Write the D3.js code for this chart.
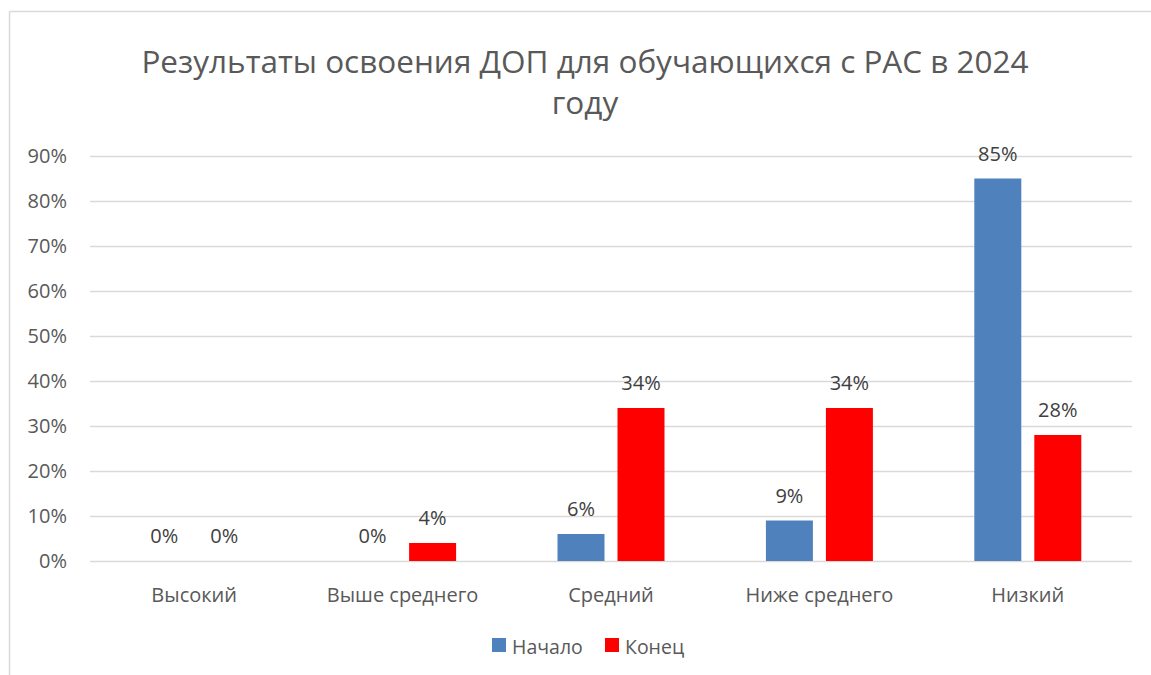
<!DOCTYPE html>
<html>
<head>
<meta charset="utf-8">
<script src="https://cdn.jsdelivr.net/npm/d3@7"></script>
<style>
  body { margin: 0; background: #fff; }
  text { font-family: "Open Sans", "Noto Sans", sans-serif; }
</style>
</head>
<body>
<svg id="chart"></svg>
<script>
const categories = ["Высокий", "Выше среднего", "Средний", "Ниже среднего", "Низкий"];
const seriesNames = ["Начало", "Конец"];
const startValues = [0, 0, 0.06, 0.09, 0.85];
const endValues = [0, 0.04, 0.34, 0.34, 0.28];
const yTicks = [0, 0.1, 0.2, 0.3, 0.4, 0.5, 0.6, 0.7, 0.8, 0.9];
const colors = ["#4f81bd", "#ff0000"];

const width = 1151;
const height = 675;
const margin = { top: 156, right: 19, bottom: 114, left: 90 };

const svg = d3.select("#chart").attr("width", width).attr("height", height);

// chart frame (only top and left edges visible)
svg.append("line").attr("x1", 9.5).attr("x2", width).attr("y1", 11.5).attr("y2", 11.5)
  .attr("stroke", "#d9d9d9").attr("stroke-width", 1.5);
svg.append("line").attr("x1", 9.5).attr("x2", 9.5).attr("y1", 11.5).attr("y2", height)
  .attr("stroke", "#d9d9d9").attr("stroke-width", 1.5);

const x0 = d3.scaleBand()
  .domain(categories)
  .range([margin.left, width - margin.right])
  .paddingInner(0.4866)
  .paddingOuter(0.2433);

const x1 = d3.scaleBand()
  .domain(seriesNames)
  .range([0, x0.bandwidth()])
  .paddingInner(0.2167);

const y = d3.scaleLinear()
  .domain([0, 0.9])
  .range([height - margin.bottom, margin.top]);

// gridlines
svg.append("g")
  .selectAll("line")
  .data(yTicks)
  .join("line")
  .attr("x1", margin.left)
  .attr("x2", width - margin.right)
  .attr("y1", d => Math.round(y(d)) + 0.5)
  .attr("y2", d => Math.round(y(d)) + 0.5)
  .attr("stroke", "#d9d9d9")
  .attr("stroke-width", 1.5);

// y axis labels
const yAxis = svg.append("g")
  .attr("transform", `translate(${margin.left - 23},0)`)
  .call(d3.axisLeft(y).tickValues(yTicks).tickFormat(d3.format(".0%")).tickSize(0).tickPadding(0));
yAxis.select(".domain").remove();
yAxis.selectAll("text")
  .attr("fill", "#595959")
  .style("font-size", "20px")
  .style("font-family", "'Open Sans', sans-serif");

// x axis labels
const xAxis = svg.append("g")
  .attr("transform", `translate(0,${height - margin.bottom + 25})`)
  .call(d3.axisBottom(x0).tickSize(0).tickPadding(0));
xAxis.select(".domain").remove();
xAxis.selectAll("text")
  .attr("fill", "#595959")
  .attr("dy", "0.35em")
  .attr("y", 9)
  .style("font-size", "20px")
  .style("font-family", "'Open Sans', sans-serif");

const rows = categories.map((c, i) => ({ cat: c, values: [startValues[i], endValues[i]] }));

const groups = svg.append("g")
  .selectAll("g")
  .data(rows)
  .join("g")
  .attr("transform", d => `translate(${x0(d.cat)},0)`);

groups.selectAll("rect")
  .data(d => d.values.map((v, j) => ({ key: seriesNames[j], v, j })))
  .join("rect")
  .attr("x", d => x1(d.key))
  .attr("y", d => y(d.v))
  .attr("width", x1.bandwidth())
  .attr("height", d => y(0) - y(d.v))
  .attr("fill", d => colors[d.j]);

groups.selectAll("text")
  .data(d => d.values.map((v, j) => ({ key: seriesNames[j], v, j })))
  .join("text")
  .attr("x", d => x1(d.key) + x1.bandwidth() / 2)
  .attr("y", d => y(d.v) - 25)
  .attr("dy", "0.35em")
  .attr("text-anchor", "middle")
  .attr("fill", "#404040")
  .style("font-size", "20px")
  .text(d => d3.format(".0%")(d.v));

// title
const title = svg.append("text")
  .attr("x", 585)
  .attr("text-anchor", "middle")
  .attr("fill", "#595959")
  .style("font-size", "31.5px");
title.append("tspan").attr("x", 585).attr("y", 73)
  .text("Результаты освоения ДОП для обучающихся с РАС в 2024");
title.append("tspan").attr("x", 585).attr("y", 114).text("году");

// legend
const legend = svg.append("g").attr("transform", "translate(492,638)");
const legendX = [0, 113];
seriesNames.forEach((name, i) => {
  const g = legend.append("g").attr("transform", `translate(${legendX[i]},0)`);
  g.append("rect").attr("width", 14).attr("height", 14).attr("fill", colors[i]);
  g.append("text")
    .attr("x", 20)
    .attr("y", 9)
    .attr("dy", "0.35em")
    .attr("fill", "#595959")
    .style("font-size", "19.5px")
    .text(name);
});
</script>
</body>
</html>
